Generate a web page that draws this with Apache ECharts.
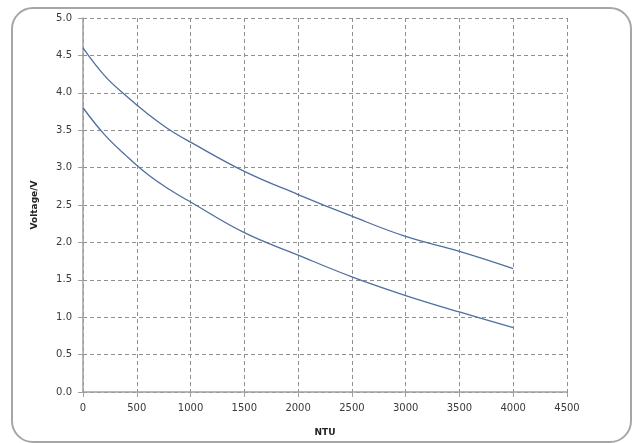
<!DOCTYPE html>
<html><head><meta charset="utf-8">
<script src="https://cdn.jsdelivr.net/npm/echarts@6/dist/echarts.min.js"></script>
<style>
html,body{margin:0;padding:0;background:#fff;}
#frame{position:absolute;left:11px;top:7px;width:621px;height:436px;border:2.5px solid #a6a6a6;border-radius:22px;box-sizing:border-box;}
#c{position:absolute;left:0;top:0;width:634px;height:443px;}
</style></head>
<body>
<div id="frame"></div>
<div id="c"></div>
<script>
const ntuUpper = [0, 200, 400, 600, 800, 1000, 1500, 2000, 2500, 3000, 3500, 4000];
const voltUpper = [4.6, 4.23, 3.96, 3.72, 3.51, 3.34, 2.95, 2.64, 2.35, 2.08, 1.88, 1.65];
const ntuLower = [0, 200, 400, 600, 800, 1000, 1500, 2000, 2500, 3000, 3500, 4000];
const voltLower = [3.8, 3.44, 3.16, 2.91, 2.71, 2.54, 2.13, 1.83, 1.54, 1.29, 1.07, 0.86];
const xTitle = 'NTU';
const yTitle = 'Voltage/V';

const chart = echarts.init(document.getElementById('c'), null, {renderer:'canvas'});
const lineColor = '#4f6f9e';
const font = 'DejaVu Sans';
chart.setOption({
  animation:false,
  grid:{left:83, right:67, top:18, bottom:51},
  xAxis:{
    type:'value', min:0, max:4500, interval:500,
    name:xTitle, nameLocation:'middle', nameGap:36,
    nameTextStyle:{fontFamily:font, fontSize:9, fontWeight:'bold', color:'#222'},
    axisLine:{show:true, onZero:false, lineStyle:{color:'#a0a0a0', width:1.5}},
    axisTick:{show:true, length:5, lineStyle:{color:'#a0a0a0'}},
    axisLabel:{fontFamily:font, fontSize:10, color:'#3a3a3a', margin:11, formatter:v=>String(v)},
    splitLine:{show:true, lineStyle:{color:'#909090', type:[4,3], width:1}}
  },
  yAxis:{
    type:'value', min:0, max:5, interval:0.5,
    name:yTitle, nameLocation:'middle', nameGap:44, nameRotate:90,
    nameTextStyle:{fontFamily:font, fontSize:9, fontWeight:'bold', color:'#222'},
    axisLine:{show:true, lineStyle:{color:'#a0a0a0', width:1.5}},
    axisTick:{show:true, length:5, lineStyle:{color:'#a0a0a0'}},
    axisLabel:{fontFamily:font, fontSize:10, color:'#3a3a3a', margin:11, formatter:v=>v.toFixed(1)},
    splitLine:{show:true, lineStyle:{color:'#909090', type:[4,3], width:1}}
  },
  series:[
    {type:'line', data:ntuUpper.map((x,i)=>[x,voltUpper[i]]), smooth:0.4, showSymbol:false, lineStyle:{color:lineColor, width:1.3}},
    {type:'line', data:ntuLower.map((x,i)=>[x,voltLower[i]]), smooth:0.4, showSymbol:false, lineStyle:{color:lineColor, width:1.3}}
  ]
});
</script>
</body></html>
